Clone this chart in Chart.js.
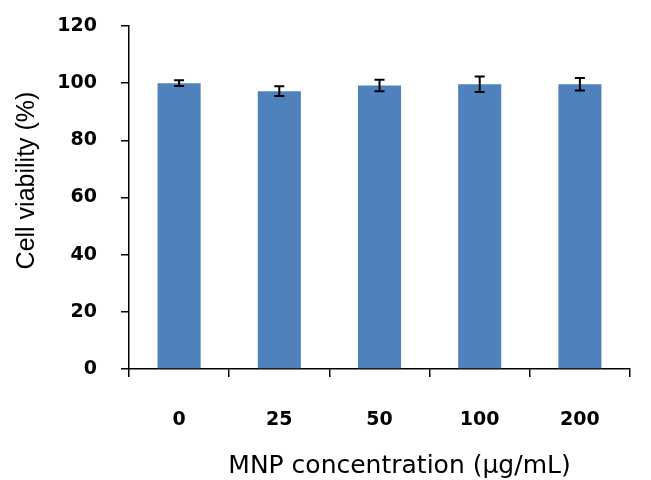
<!DOCTYPE html>
<html>
<head>
<meta charset="utf-8">
<script src="https://cdn.jsdelivr.net/npm/chart.js@4.4.1/dist/chart.umd.min.js"></script>
<style>
html,body{margin:0;padding:0;background:#fff;}
#wrap{width:651px;height:480px;position:relative;}
</style>
</head>
<body>
<div id="wrap"><canvas id="c" width="651" height="480"></canvas></div>
<script>
const categories = ['0', '25', '50', '100', '200'];
const viability = [100.0, 97.2, 99.2, 99.6, 99.6];
const errors = [1.0, 1.7, 2.0, 2.7, 2.2];
const yTicks = [0, 20, 40, 60, 80, 100, 120];
const xTitle = 'MNP concentration (μg/mL)';
const yTitle = 'Cell viability (%)';

const errorBars = {
  id: 'errorBars',
  afterDatasetsDraw(chart) {
    const ctx = chart.ctx;
    const meta = chart.getDatasetMeta(0);
    const y = chart.scales.y;
    ctx.save();
    ctx.strokeStyle = '#000';
    ctx.lineWidth = 2;
    meta.data.forEach((bar, i) => {
      const top = y.getPixelForValue(viability[i] + errors[i]);
      const bot = y.getPixelForValue(viability[i] - errors[i]);
      const x = bar.x;
      ctx.beginPath();
      ctx.moveTo(x, top); ctx.lineTo(x, bot);
      ctx.moveTo(x - 5, top); ctx.lineTo(x + 5, top);
      ctx.moveTo(x - 5, bot); ctx.lineTo(x + 5, bot);
      ctx.stroke();
    });
    ctx.restore();
  }
};

const axisTitles = {
  id: 'axisTitles',
  afterDraw(chart) {
    const ctx = chart.ctx;
    const a = chart.chartArea;
    ctx.save();
    ctx.fillStyle = '#000';
    ctx.textAlign = 'center';
    ctx.textBaseline = 'middle';
    ctx.font = '25px "DejaVu Sans"';
    ctx.fillText(xTitle, (a.left + a.right) / 2 + 20, a.bottom + 97);
    ctx.translate(27, (a.top + a.bottom) / 2 - 17);
    ctx.rotate(-Math.PI / 2);
    ctx.font = '25px "Liberation Sans"';
    ctx.fillText(yTitle, 0, 0);
    ctx.restore();
  }
};

new Chart(document.getElementById('c'), {
  type: 'bar',
  data: {
    labels: categories,
    datasets: [{
      data: viability,
      backgroundColor: '#4F81BD',
      borderWidth: 0,
      barPercentage: 0.43,
      categoryPercentage: 1.0
    }]
  },
  options: {
    responsive: false,
    animation: false,
    devicePixelRatio: 1,
    layout: { padding: { top: 26, right: 21, left: 0, bottom: 0 } },
    plugins: { legend: { display: false }, tooltip: { enabled: false } },
    scales: {
      x: {
        grid: { display: true, drawOnChartArea: false, drawTicks: true, tickLength: 8, color: '#000', lineWidth: 1.5, offset: true },
        border: { display: true, color: '#000', width: 1.5 },
        ticks: { color: '#000', font: { family: 'DejaVu Sans', size: 19, weight: 'bold' }, padding: 32, maxRotation: 0 },
        afterFit(s) { s.height = 111; s.paddingLeft = 0; s.paddingRight = 0; }
      },
      y: {
        min: 0, max: 120,
        afterBuildTicks(s) { s.ticks = yTicks.map(v => ({ value: v })); },
        grid: { display: true, drawOnChartArea: false, drawTicks: true, tickLength: 8, color: '#000', lineWidth: 1.5 },
        border: { display: true, color: '#000', width: 1.5 },
        ticks: { color: '#000', font: { family: 'DejaVu Sans', size: 19, weight: 'bold' }, padding: 24 },
        afterFit(s) { s.width = 129; s.paddingTop = 0; s.paddingBottom = 0; }
      }
    }
  },
  plugins: [errorBars, axisTitles]
});
</script>
</body>
</html>
